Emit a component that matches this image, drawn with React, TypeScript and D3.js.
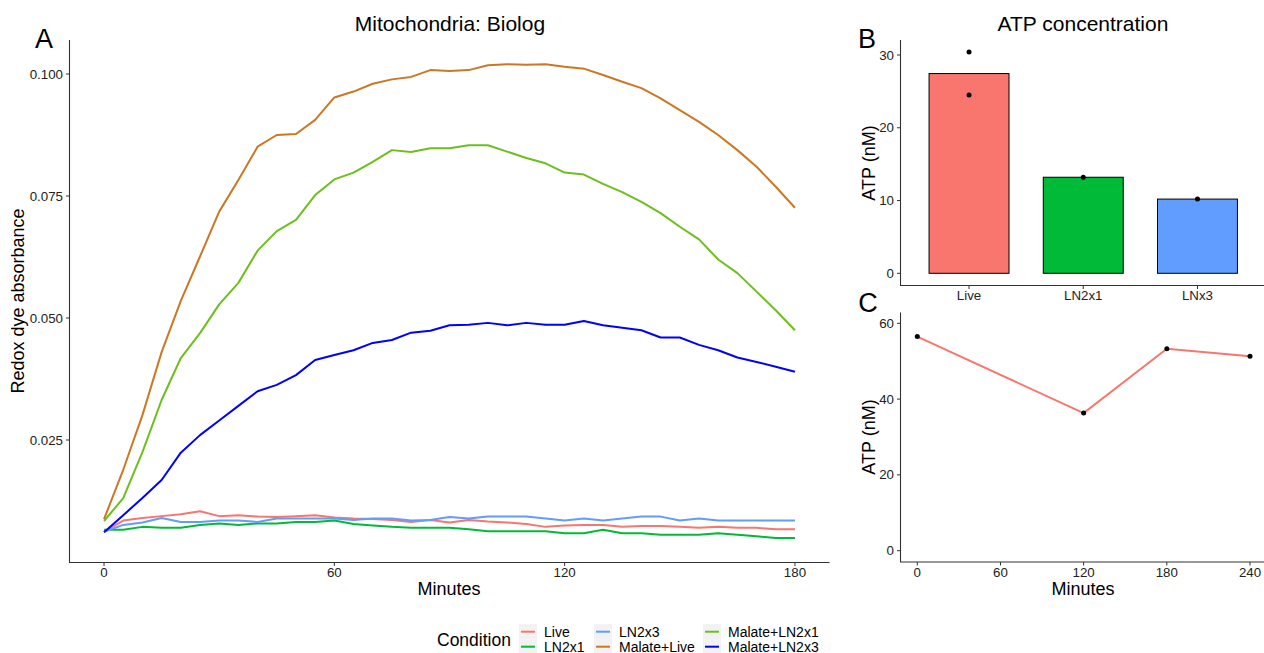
import React from 'react';
import * as d3 from 'd3';

// panel A: redox dye absorbance every 5 minutes
const minutes = [0, 5, 10, 15, 20, 25, 30, 35, 40, 45, 50, 55, 60, 65, 70, 75, 80, 85, 90,
  95, 100, 105, 110, 115, 120, 125, 130, 135, 140, 145, 150, 155, 160, 165, 170, 175, 180];

const live = [0.0062, 0.0085, 0.0090, 0.0094, 0.0098, 0.0104, 0.0094, 0.0096, 0.0093, 0.0092,
  0.0094, 0.0096, 0.0091, 0.0089, 0.0088, 0.0086, 0.0082, 0.0086, 0.0081, 0.0086, 0.0083,
  0.0081, 0.0078, 0.0072, 0.0075, 0.0076, 0.0076, 0.0072, 0.0074, 0.0074, 0.0072, 0.0070,
  0.0072, 0.0070, 0.0070, 0.0067, 0.0067];
const ln2x1 = [0.0066, 0.0066, 0.0072, 0.0070, 0.0070, 0.0076, 0.0079, 0.0076, 0.0079, 0.0079,
  0.0082, 0.0082, 0.0085, 0.0078, 0.0075, 0.0072, 0.0070, 0.0070, 0.0070, 0.0067, 0.0063,
  0.0063, 0.0063, 0.0063, 0.0059, 0.0059, 0.0066, 0.0059, 0.0059, 0.0056, 0.0056, 0.0056,
  0.0059, 0.0056, 0.0053, 0.0049, 0.0049];
const ln2x3 = [0.0062, 0.0076, 0.0081, 0.0090, 0.0082, 0.0082, 0.0085, 0.0085, 0.0082, 0.0089,
  0.0089, 0.0089, 0.0089, 0.0086, 0.0089, 0.0089, 0.0085, 0.0086, 0.0092, 0.0089, 0.0093,
  0.0093, 0.0093, 0.0089, 0.0085, 0.0089, 0.0085, 0.0089, 0.0093, 0.0093, 0.0085, 0.0089,
  0.0085, 0.0085, 0.0085, 0.0085, 0.0085];
const malateLive = [0.0088, 0.0189, 0.0301, 0.0430, 0.0535, 0.0626, 0.0718, 0.0783, 0.0851,
  0.0875, 0.0877, 0.0906, 0.0952, 0.0964, 0.0980, 0.0989, 0.0994, 0.1008, 0.1006, 0.1008,
  0.1018, 0.1020, 0.1019, 0.1020, 0.1015, 0.1011, 0.0998, 0.0984, 0.0971, 0.0950, 0.0926,
  0.0902, 0.0875, 0.0844, 0.0810, 0.0769, 0.0726];
const malateLN2x1 = [0.0084, 0.0131, 0.0225, 0.0332, 0.0418, 0.0469, 0.0528, 0.0572, 0.0638,
  0.0678, 0.0701, 0.0752, 0.0784, 0.0798, 0.0820, 0.0844, 0.0840, 0.0848, 0.0848, 0.0854,
  0.0854, 0.0841, 0.0828, 0.0817, 0.0798, 0.0794, 0.0775, 0.0758, 0.0738, 0.0715, 0.0687,
  0.0661, 0.0620, 0.0592, 0.0554, 0.0516, 0.0475];
const malateLN2x3 = [0.0061, 0.0096, 0.0131, 0.0168, 0.0224, 0.0260, 0.0290, 0.0320, 0.0350,
  0.0363, 0.0383, 0.0414, 0.0424, 0.0434, 0.0449, 0.0455, 0.0470, 0.0474, 0.0485, 0.0486,
  0.0490, 0.0485, 0.0490, 0.0486, 0.0486, 0.0494, 0.0485, 0.0480, 0.0475, 0.0460, 0.0460,
  0.0445, 0.0434, 0.0419, 0.0410, 0.0400, 0.0390];

const conditions = ['Live', 'LN2x1', 'LN2x3', 'Malate+Live', 'Malate+LN2x1', 'Malate+LN2x3'];
const conditionValues = [live, ln2x1, ln2x3, malateLive, malateLN2x1, malateLN2x3];
const conditionColors = ['#F8766D', '#00BA38', '#619CFF', '#CC7722', '#6EBE1E', '#0000FF'];
const yTicksA = [0.025, 0.05, 0.075, 0.1];
const xTicksA = [0, 60, 120, 180];

// panel B: ATP per sample, replicates
const atpSamples = ['Live', 'LN2x1', 'LNx3'];
const atpReplicates = [[30.4, 24.5], [13.2], [10.2]];
const atpColors = ['#F8766D', '#00BA38', '#619CFF'];
const yTicksB = [0, 10, 20, 30];

// panel C: ATP over time
const atpMinutes = [0, 120, 180, 240];
const atpTime = [56.5, 36.3, 53.3, 51.3];
const yTicksC = [0, 20, 40, 60];
const xTicksC = [0, 60, 120, 180, 240];

const font = '"Liberation Sans", Arial, Helvetica, sans-serif';
const axisCol = '#333333';
const tickCol = '#222222';

export default function App() {
  // panel A scales
  const xA = d3.scaleLinear().domain([-9, 189]).range([69.5, 829.5]);
  const yA = d3.scaleLinear().domain([0, 0.025]).range([562, 440]);
  const lineA = d3.line<number>()
    .x((_, i) => xA(minutes[i]))
    .y((d) => yA(d));

  // panel B scales
  const xB = d3.scaleLinear().domain([0.4, 3.6]).range([900.5, 1266]);
  const yB = d3.scaleLinear().domain([0, 30]).range([273.3, 55]);
  const means = atpReplicates.map((r) => d3.mean(r) as number);
  const barHalf = xB(1.35) - xB(1);

  // panel C scales
  const xC = d3.scaleLinear().domain([0, 240]).range([917.3, 1250]);
  const yC = d3.scaleLinear().domain([0, 60]).range([550.7, 323.3]);
  const lineC = d3.line<number>()
    .x((_, i) => xC(atpMinutes[i]))
    .y((d) => yC(d));

  return (
    <svg width={1264} height={653} style={{ position: 'absolute', left: 0, top: 0, background: '#fff' }}
      fontFamily={font}>
      <rect width={1264} height={653} fill="#fff" />

      {/* Panel A */}
      <text x={44} y={47.5} fontSize={27} textAnchor="middle">A</text>
      <text x={450} y={31} fontSize={21} textAnchor="middle">Mitochondria: Biolog</text>
      <g>
        {conditionValues.map((vals, k) => (
          <path key={conditions[k]} d={lineA(vals) || ''} fill="none"
            stroke={conditionColors[k]} strokeWidth={2} strokeLinejoin="round" />
        ))}
      </g>
      <line x1={69.5} x2={69.5} y1={40} y2={562.5} stroke={axisCol} strokeWidth={1.1} />
      <line x1={69} x2={829.5} y1={562.5} y2={562.5} stroke={axisCol} strokeWidth={1.1} />
      {yTicksA.map((t) => (
        <g key={t}>
          <line x1={66} x2={69.5} y1={yA(t)} y2={yA(t)} stroke={axisCol} />
          <text x={63} y={yA(t) + 4.5} fontSize={13.3} textAnchor="end" fill={tickCol}>{t.toFixed(3)}</text>
        </g>
      ))}
      {xTicksA.map((t) => (
        <g key={t}>
          <line x1={xA(t)} x2={xA(t)} y1={562.5} y2={566} stroke={axisCol} />
          <text x={xA(t)} y={577} fontSize={13.3} textAnchor="middle" fill={tickCol}>{t}</text>
        </g>
      ))}
      <text x={449} y={595} fontSize={18} textAnchor="middle">Minutes</text>
      <text transform="translate(24,301) rotate(-90)" fontSize={18} textAnchor="middle">Redox dye absorbance</text>

      {/* Legend */}
      <text x={437} y={646} fontSize={17.5}>Condition</text>
      {conditions.map((c, k) => {
        const col = Math.floor(k / 2);
        const row = k % 2;
        const kx = [519, 594, 703][col];
        const cy = 631.7 + row * 15;
        return (
          <g key={c}>
            <rect x={kx} y={cy - 7.5} width={18} height={15} fill="#F2F2F2" />
            <line x1={kx + 2} x2={kx + 16} y1={cy} y2={cy} stroke={conditionColors[k]} strokeWidth={2} />
            <text x={kx + 25} y={cy + 4.8} fontSize={14}>{c}</text>
          </g>
        );
      })}

      {/* Panel B */}
      <text x={867} y={47.5} fontSize={27} textAnchor="middle">B</text>
      <text x={1083} y={31} fontSize={21} textAnchor="middle">ATP concentration</text>
      {means.map((m, i) => (
        <rect key={atpSamples[i]} x={xB(i + 1) - barHalf} y={yB(m)} width={barHalf * 2}
          height={yB(0) - yB(m)} fill={atpColors[i]} stroke="#000" strokeWidth={1} />
      ))}
      {atpReplicates.map((r, i) => r.map((v, j) => (
        <circle key={`${i}-${j}`} cx={xB(i + 1)} cy={yB(v)} r={2.5} fill="#000" />
      )))}
      <line x1={900.5} x2={900.5} y1={40} y2={285.5} stroke={axisCol} strokeWidth={1.1} />
      <line x1={900} x2={1264} y1={285.5} y2={285.5} stroke={axisCol} strokeWidth={1.1} />
      {yTicksB.map((t) => (
        <g key={t}>
          <line x1={897} x2={900.5} y1={yB(t)} y2={yB(t)} stroke={axisCol} />
          <text x={894} y={yB(t) + 4.5} fontSize={13.3} textAnchor="end" fill={tickCol}>{t}</text>
        </g>
      ))}
      {atpSamples.map((s, i) => (
        <g key={s}>
          <line x1={xB(i + 1)} x2={xB(i + 1)} y1={285.5} y2={289} stroke={axisCol} />
          <text x={xB(i + 1)} y={299.5} fontSize={13.3} textAnchor="middle" fill={tickCol}>{s}</text>
        </g>
      ))}
      <text transform="translate(875,163) rotate(-90)" fontSize={18} textAnchor="middle">ATP (nM)</text>

      {/* Panel C */}
      <text x={868} y={311.5} fontSize={27} textAnchor="middle">C</text>
      <path d={lineC(atpTime) || ''} fill="none" stroke="#F8766D" strokeWidth={2} />
      {atpTime.map((v, i) => (
        <circle key={i} cx={xC(atpMinutes[i])} cy={yC(v)} r={2.5} fill="#000" />
      ))}
      <line x1={900.5} x2={900.5} y1={312.5} y2={562} stroke={axisCol} strokeWidth={1.1} />
      <line x1={900} x2={1264} y1={562} y2={562} stroke={axisCol} strokeWidth={1.1} />
      {yTicksC.map((t) => (
        <g key={t}>
          <line x1={897} x2={900.5} y1={yC(t)} y2={yC(t)} stroke={axisCol} />
          <text x={894} y={yC(t) + 4.5} fontSize={13.3} textAnchor="end" fill={tickCol}>{t}</text>
        </g>
      ))}
      {xTicksC.map((t) => (
        <g key={t}>
          <line x1={xC(t)} x2={xC(t)} y1={562} y2={565.5} stroke={axisCol} />
          <text x={xC(t)} y={577} fontSize={13.3} textAnchor="middle" fill={tickCol}>{t}</text>
        </g>
      ))}
      <text x={1083} y={595} fontSize={18} textAnchor="middle">Minutes</text>
      <text transform="translate(875,437) rotate(-90)" fontSize={18} textAnchor="middle">ATP (nM)</text>
    </svg>
  );
}
